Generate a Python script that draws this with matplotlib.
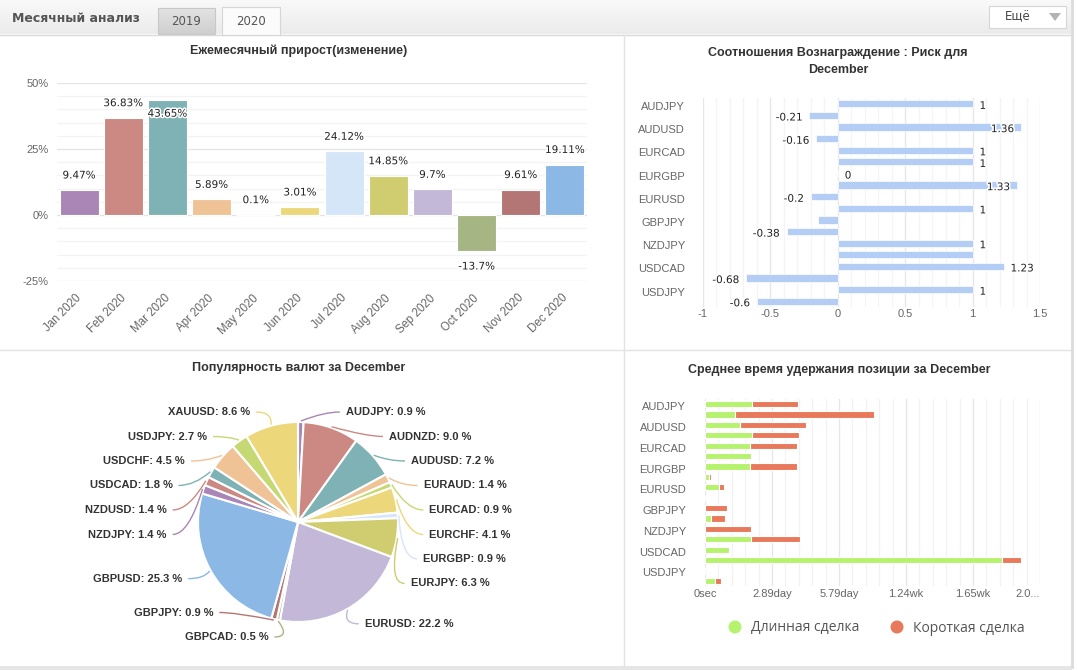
import numpy as np
import matplotlib
matplotlib.use('Agg')
import matplotlib.pyplot as plt
from matplotlib.patches import Rectangle, Polygon, Circle, PathPatch
from matplotlib.path import Path
from matplotlib.colors import LinearSegmentedColormap
from matplotlib.ticker import MultipleLocator, FuncFormatter
import matplotlib.patheffects as pe
import matplotlib.transforms as mtransforms

plt.rcParams['font.family'] = ['Liberation Sans', 'DejaVu Sans']
plt.rcParams['axes.unicode_minus'] = False

W, H = 1077, 670
DPI = 100

# ---------------- data ----------------
months = ['Jan 2020', 'Feb 2020', 'Mar 2020', 'Apr 2020', 'May 2020', 'Jun 2020',
          'Jul 2020', 'Aug 2020', 'Sep 2020', 'Oct 2020', 'Nov 2020', 'Dec 2020']
monthly_growth = [9.47, 36.83, 43.65, 5.89, 0.1, 3.01, 24.12, 14.85, 9.7, -13.7, 9.61, 19.11]

symbols = ['AUDJPY', 'AUDNZD', 'AUDUSD', 'EURAUD', 'EURCAD', 'EURCHF', 'EURGBP', 'EURJPY',
           'EURUSD', 'GBPCAD', 'GBPJPY', 'GBPUSD', 'NZDJPY', 'NZDUSD', 'USDCAD', 'USDCHF',
           'USDJPY', 'XAUUSD']
risk_reward = [1, -0.21, 1.36, -0.16, 1, 1, 0, 1.33, -0.2, 1, -0.15, -0.38, 1, 1, 1.23,
               -0.68, 1, -0.6]
risk_hidden_labels = ['GBPJPY', 'NZDUSD']
popularity = [0.9, 9.0, 7.2, 1.4, 0.9, 4.1, 0.9, 6.3, 22.2, 0.5, 0.9, 25.3, 1.4, 1.4, 1.8,
              4.5, 2.7, 8.6]
hold_long_sec = [174000, 112000, 131000, 177000, 168000, 172000, 168000, 14000, 51000, 0,
                 0, 22000, 0, 173000, 88000, 1108000, 0, 37000]
hold_short_sec = [174000, 520000, 245000, 172000, 175000, 0, 175000, 9000, 19000, 0,
                  83000, 51000, 172000, 180000, 0, 70000, 0, 22000]

palette = ['#a986b5', '#cc8983', '#7fb2b4', '#f0c397', '#c5d873', '#ecd87b',
           '#d6e6f9', '#cfcd70', '#c3b8d7', '#a5b684', '#b47674', '#8bb8e4']
GREEN = '#b5f26e'
RED = '#e8795a'

fig = plt.figure(figsize=(W / DPI, H / DPI), dpi=DPI)
fig.patch.set_facecolor('white')


def px_axes(left, top, width, height):
    return fig.add_axes([left / W, 1 - (top + height) / H, width / W, height / H])


def shift_labels(labels, dx_pt=0, dy_pt=0):
    off = mtransforms.ScaledTranslation(dx_pt / 72, dy_pt / 72, fig.dpi_scale_trans)
    for lbl in labels:
        lbl.set_transform(lbl.get_transform() + off)


# ---------------- background / frame ----------------
bg = px_axes(0, 0, W, H)
bg.set_zorder(-5)
grad = LinearSegmentedColormap.from_list('g', ['#f9f9f9', '#ebebeb'])
bg.imshow(np.linspace(0, 1, 60).reshape(-1, 1), extent=(0, 1071, 34, 0), cmap=grad,
          aspect='auto', origin='upper', zorder=0)
bg.set_xlim(0, W)
bg.set_ylim(H, 0)
bg.axis('off')
bg.plot([0, 1071], [34.5, 34.5], color='#d9d9d9', lw=1, zorder=1)
bg.text(12, 19, 'Месячный анализ', family='DejaVu Sans', fontweight='bold', fontsize=9,
        color='#555555', va='center', ha='left')
tab_grad = LinearSegmentedColormap.from_list('t', ['#e3e3e3', '#cfcfcf'])
bg.imshow(np.linspace(0, 1, 30).reshape(-1, 1), extent=(158, 215, 34, 8), cmap=tab_grad,
          aspect='auto', origin='upper', zorder=1)
bg.add_patch(Rectangle((158, 8), 57, 26, fc='none', ec='#c8c8c8', lw=0.8, zorder=2))
bg.text(186.5, 21.5, '2019', family='DejaVu Sans', fontsize=8.5, color='#555555',
        ha='center', va='center', zorder=3)
bg.add_patch(Rectangle((222, 7), 58, 28, fc='#fbfbfb', ec='#d6d6d6', lw=0.8, zorder=2))
bg.text(251, 21.5, '2020', family='DejaVu Sans', fontsize=8.5, color='#555555',
        ha='center', va='center', zorder=3)
bg.add_patch(Rectangle((989, 6), 77, 22, fc='white', ec='#d6d6d6', lw=0.8, zorder=2))
bg.text(1018, 17, 'Ещё', family='DejaVu Sans', fontsize=8.5, color='#444444',
        ha='center', va='center', zorder=3)
bg.add_patch(Polygon([(1049, 13), (1061, 13), (1055, 21)], closed=True, fc='#b3b3b3',
                     ec='none', zorder=3))
bg.set_xlim(0, W)
bg.set_ylim(H, 0)

# dividers and outer shadow
bg.plot([624, 624], [35, 666], color='#e3e3e3', lw=1)
bg.plot([0, 1071], [350, 350], color='#e3e3e3', lw=1)
bg.plot([1071.5, 1071.5], [0, 667], color='#dcdcdc', lw=2)
bg.add_patch(Rectangle((0, 666), 1072, 4, fc='#e6e6e6', ec='none'))

TITLE_KW = dict(fontweight='bold', fontsize=9, color='#333333', ha='center', va='center')
bg.text(299, 51, 'Ежемесячный прирост(изменение)', **TITLE_KW)
bg.text(838, 61.5, 'Соотношения Вознаграждение : Риск для\nDecember', linespacing=1.5,
        multialignment='center', **TITLE_KW)
bg.text(299, 368, 'Популярность валют за December', **TITLE_KW)
bg.text(839, 370, 'Среднее время удержания позиции за December', **TITLE_KW)

TICK_COLOR = '#666666'

# ---------------- monthly growth bar chart ----------------
axb = px_axes(57, 83, 530, 198)
axb.patch.set_alpha(0)
xb = np.arange(len(months))
axb.bar(xb, monthly_growth, width=0.88, color=palette[:len(months)], edgecolor='white',
        linewidth=0.8, zorder=3)
axb.set_xlim(-0.5, len(months) - 0.5)
axb.set_ylim(-25, 50)
axb.yaxis.set_major_locator(MultipleLocator(25))
axb.yaxis.set_minor_locator(MultipleLocator(5))
axb.yaxis.set_major_formatter(FuncFormatter(lambda v, p: f'{v:g}%'))
axb.grid(axis='y', which='major', color='#e4e4e4', lw=0.9, zorder=0)
axb.grid(axis='y', which='minor', color='#f3f3f3', lw=0.9, zorder=0)
axb.set_axisbelow(True)
for s in axb.spines.values():
    s.set_visible(False)
axb.set_xticks(xb)
axb.set_xticklabels(months, rotation=45, ha='right', rotation_mode='anchor')
axb.tick_params(axis='x', length=0, pad=8, labelsize=8.3, labelcolor=TICK_COLOR)
axb.tick_params(axis='y', which='both', length=0, pad=6, labelsize=8, labelcolor=TICK_COLOR)
shift_labels(axb.get_xticklabels(), dx_pt=-2.5)
ppu_b = 198 / 75.0
for i, v in enumerate(monthly_growth):
    if v >= 0:
        off = -10 if (50 - v) * ppu_b < 21 else 10.5
    else:
        off = -11
    axb.annotate(f'{v:g}%', (i, v), xytext=(0, off), textcoords='offset points',
                 ha='center', va='center', fontsize=7.5, family='DejaVu Sans',
                 color='#222222', zorder=6,
                 path_effects=[pe.withStroke(linewidth=2.2, foreground='white')])

# ---------------- risk/reward chart ----------------
axr = px_axes(703, 98, 337, 209)
axr.patch.set_alpha(0)
ys = np.arange(len(symbols))
axr.barh(ys, risk_reward, height=0.62, color='#b4cdf4', edgecolor='white', linewidth=0.5,
         zorder=3)
axr.set_xlim(-1, 1.5)
axr.set_ylim(len(symbols) - 0.5, -0.5)
axr.xaxis.set_major_locator(MultipleLocator(0.5))
axr.xaxis.set_minor_locator(MultipleLocator(0.1))
axr.xaxis.set_major_formatter(FuncFormatter(lambda v, p: f'{v:g}'))
axr.grid(axis='x', which='major', color='#e6e6e6', lw=0.9, zorder=0)
axr.grid(axis='x', which='minor', color='#f4f4f4', lw=0.9, zorder=0)
axr.set_axisbelow(True)
for s in axr.spines.values():
    s.set_visible(False)
axr.set_yticks(ys[::2])
axr.set_yticklabels(symbols[::2])
axr.tick_params(axis='y', length=0, pad=13, labelsize=8, labelcolor=TICK_COLOR)
axr.tick_params(axis='x', which='both', length=0, pad=1.5, labelsize=8,
                labelcolor=TICK_COLOR)
shift_labels(axr.get_yticklabels(), dy_pt=-1.5)

fig.canvas.draw()
renderer = fig.canvas.get_renderer()
axr_box = axr.get_window_extent(renderer)
for i, (sym, v) in enumerate(zip(symbols, risk_reward)):
    if sym in risk_hidden_labels:
        continue
    if v >= 0:
        t = axr.annotate(f'{v:g}', (v, i), xytext=(5, -1.5), textcoords='offset points',
                         ha='left', va='center', fontsize=7.5, family='DejaVu Sans',
                         color='#222222', zorder=6,
                         path_effects=[pe.withStroke(linewidth=2.2, foreground='white')])
        bb = t.get_window_extent(renderer)
        if bb.x1 > axr_box.x1:
            t.set_ha('right')
            t.xyann = (-5, -1.5)
    else:
        axr.annotate(f'{v:g}', (v, i), xytext=(-5, -1.5), textcoords='offset points',
                     ha='right', va='center', fontsize=7.5, family='DejaVu Sans',
                     color='#222222', zorder=6,
                     path_effects=[pe.withStroke(linewidth=2.2, foreground='white')])

# ---------------- holding time chart ----------------
axh = px_axes(705, 399, 335, 187)
axh.patch.set_alpha(0)
axh.barh(ys, hold_long_sec, height=0.6, color=GREEN, edgecolor='white', linewidth=0.8,
         zorder=3)
axh.barh(ys, hold_short_sec, left=hold_long_sec, height=0.6, color=RED, edgecolor='white',
         linewidth=0.8, zorder=3)
xmax_h = 1250000
axh.set_xlim(0, xmax_h)
axh.set_ylim(len(symbols) - 0.5, -0.5)
axh.xaxis.set_minor_locator(MultipleLocator(50000))


def fmt_dur(s):
    if s == 0:
        return '0sec'
    if s < 604800:
        return f'{s / 86400:.2f}day'
    return f'{s / 604800:.2f}wk'


h_ticks = np.arange(0, xmax_h + 1, 250000)
h_labels = [fmt_dur(s) for s in h_ticks]
h_labels[-1] = h_labels[-1][:3] + '...'
axh.set_xticks(h_ticks)
axh.set_xticklabels(h_labels)
axh.get_xticklabels()[-1].set_ha('right')
axh.grid(axis='x', which='major', color='#e6e6e6', lw=0.9, zorder=0)
axh.grid(axis='x', which='minor', color='#f2f2f2', lw=0.9, zorder=0)
axh.set_axisbelow(True)
for s in axh.spines.values():
    s.set_visible(False)
axh.set_yticks(ys[::2])
axh.set_yticklabels(symbols[::2])
axh.tick_params(axis='y', length=0, pad=13.5, labelsize=8, labelcolor=TICK_COLOR)
axh.tick_params(axis='x', which='both', length=0, pad=2, labelsize=8,
                labelcolor=TICK_COLOR)
shift_labels(axh.get_yticklabels(), dy_pt=-1.5)

# legend
bg.add_patch(Circle((735, 627), 6.5, fc=GREEN, ec='none'))
bg.text(751, 628, 'Длинная сделка', family='Open Sans', fontsize=10, color='#555555',
        ha='left', va='center')
bg.add_patch(Circle((897, 627), 6.5, fc=RED, ec='none'))
bg.text(913, 628, 'Короткая сделка', family='Open Sans', fontsize=10, color='#555555',
        ha='left', va='center')

# ---------------- popularity pie ----------------
axp = px_axes(148, 392, 300, 260)
pie_colors = [palette[i % len(palette)] for i in range(len(symbols))]
wedges, _ = axp.pie(popularity, colors=pie_colors, startangle=90, counterclock=False,
                    radius=100, center=(0, 0),
                    wedgeprops=dict(edgecolor='white', linewidth=1.5))
axp.set_xlim(-150, 150)
axp.set_ylim(-130, 130)
axp.axis('off')

frac = np.array(popularity) / np.sum(popularity)
cum = np.concatenate([[0.0], np.cumsum(frac)])
mid = (cum[:-1] + cum[1:]) / 2 * 2 * np.pi  # clockwise from 12 o'clock
side = np.where(np.sin(mid) >= 0, 1, -1)
R_nat = 117.0
nat_y = -R_nat * np.cos(mid)  # screen-down coordinate relative to centre
TOP, BOTTOM, SPACING = -110.0, 115.0, 24.5
lab_y = nat_y.copy()
for sgn in (1, -1):
    idx = [i for i in np.argsort(nat_y) if side[i] == sgn]
    ypos = [nat_y[i] for i in idx]
    for k in range(len(ypos)):
        lo = TOP if k == 0 else ypos[k - 1] + SPACING
        ypos[k] = max(ypos[k], lo)
    for k in range(len(ypos) - 1, -1, -1):
        hi = BOTTOM if k == len(ypos) - 1 else ypos[k + 1] - SPACING
        ypos[k] = min(ypos[k], hi)
    for k, i in enumerate(idx):
        lab_y[i] = ypos[k]

A_X, B_Y = 132.0, 118.0
for i, (sym, p) in enumerate(zip(symbols, popularity)):
    dy = lab_y[i]
    dx = A_X * np.sqrt(max(1 - (dy / B_Y) ** 2, 0.04))
    tx = side[i] * dx
    ty = -dy
    axp.text(tx, ty, f'{sym}: {p:.1f} %', ha='right' if side[i] < 0 else 'left',
             va='center', fontsize=8, fontweight='bold', color='#333333', clip_on=False,
             zorder=6)
    sx, sy = 101 * np.sin(mid[i]), 101 * np.cos(mid[i])
    ex = tx - side[i] * 6
    ey = ty
    cx_, cy_ = ex - side[i] * 16, ey
    path = Path([(sx, sy), (cx_, cy_), (ex, ey)], [Path.MOVETO, Path.CURVE3, Path.CURVE3])
    axp.add_patch(PathPatch(path, fc='none', ec=pie_colors[i], lw=1, clip_on=False,
                            zorder=5))

fig.savefig('out.png', dpi=DPI, facecolor='white')
